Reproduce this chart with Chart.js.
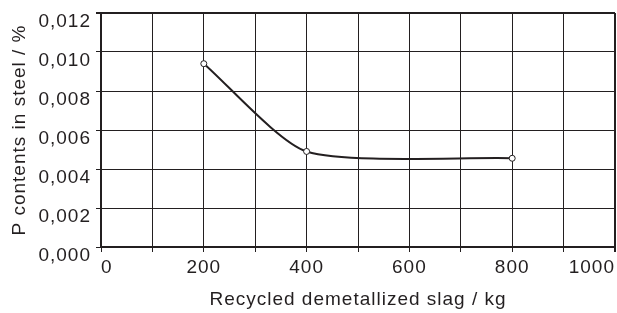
<!DOCTYPE html>
<html>
<head>
<meta charset="utf-8">
<script src="https://cdn.jsdelivr.net/npm/chart.js@4"></script>
<style>
  html, body { margin: 0; padding: 0; background: #fff; }
  #wrap { width: 617px; height: 313px; }
</style>
</head>
<body>
<div id="wrap"><canvas id="chart"></canvas></div>
<script>
// Recycled demetallized slag vs P content in steel
const slagKg = [200, 400, 800];
const pContent = [0.0094, 0.0049, 0.00455];
const xTickValues = [0, 100, 200, 300, 400, 500, 600, 700, 800, 900, 1000];
const xTickLabels = ['0', '', '200', '', '400', '', '600', '', '800', '', '1000'];
const yTickValues = [0, 0.002, 0.004, 0.006, 0.008, 0.010, 0.012];
const yTickLabels = ['0,000', '0,002', '0,004', '0,006', '0,008', '0,010', '0,012'];

const INK = '#231f20';
const FONT = "'Liberation Sans', Arial, sans-serif";

const points = slagKg.map((x, i) => ({ x, y: pContent[i] }));

// heavier frame line on the top / right edges
const edgeWidth = (last) => (ctx) => (ctx.index === last ? 2 : 1);

// the lettering in the original is set a little wide
const wideText = {
  id: 'wideText',
  beforeUpdate: (chart) => { chart.ctx.letterSpacing = '1px'; },
  beforeDraw: (chart) => { chart.ctx.letterSpacing = '1px'; },
};

new Chart(document.getElementById('chart'), {
  type: 'line',
  data: {
    datasets: [{
      data: points,
      borderColor: INK,
      borderWidth: 2,
      tension: 0.22,
      pointRadius: 3,
      pointBorderWidth: 1,
      pointBackgroundColor: '#fff',
      pointBorderColor: INK,
    }],
  },
  plugins: [wideText],
  options: {
    responsive: true,
    maintainAspectRatio: false,
    animation: false,
    layout: { autoPadding: false, padding: { top: 13, right: 2, left: 0, bottom: 0 } },
    plugins: { legend: { display: false }, tooltip: { enabled: false } },
    scales: {
      x: {
        type: 'linear',
        min: 0,
        max: 1000,
        afterBuildTicks: (s) => { s.ticks = xTickValues.map((v) => ({ value: v })); },
        afterFit: (s) => { s.height = 66; s.paddingLeft = 0; s.paddingRight = 0; },
        grid: { color: INK, lineWidth: edgeWidth(xTickValues.length - 1), tickLength: 5 },
        border: { color: INK, width: 2 },
        ticks: {
          autoSkip: false,
          maxRotation: 0,
          align: 'inner',
          padding: 4,
          color: INK,
          font: { family: FONT, size: 19 },
          callback: (v, i) => xTickLabels[i],
        },
        title: {
          display: true,
          text: 'Recycled demetallized slag / kg',
          color: INK,
          font: { family: FONT, size: 19 },
          padding: { top: 0, bottom: 2 },
        },
      },
      y: {
        min: 0,
        max: 0.012,
        afterBuildTicks: (s) => { s.ticks = yTickValues.map((v) => ({ value: v })); },
        afterFit: (s) => { s.width = 101; s.paddingTop = 0; s.paddingBottom = 0; },
        grid: { color: INK, lineWidth: edgeWidth(yTickValues.length - 1), tickLength: 5 },
        border: { color: INK, width: 2 },
        ticks: {
          padding: 5,
          labelOffset: 9,
          color: INK,
          font: { family: FONT, size: 19 },
          callback: (v, i) => yTickLabels[i],
        },
        title: {
          display: true,
          text: 'P contents in steel / %',
          color: INK,
          font: { family: FONT, size: 19 },
          padding: { top: 8, bottom: 0 },
        },
      },
    },
  },
});
</script>
</body>
</html>
